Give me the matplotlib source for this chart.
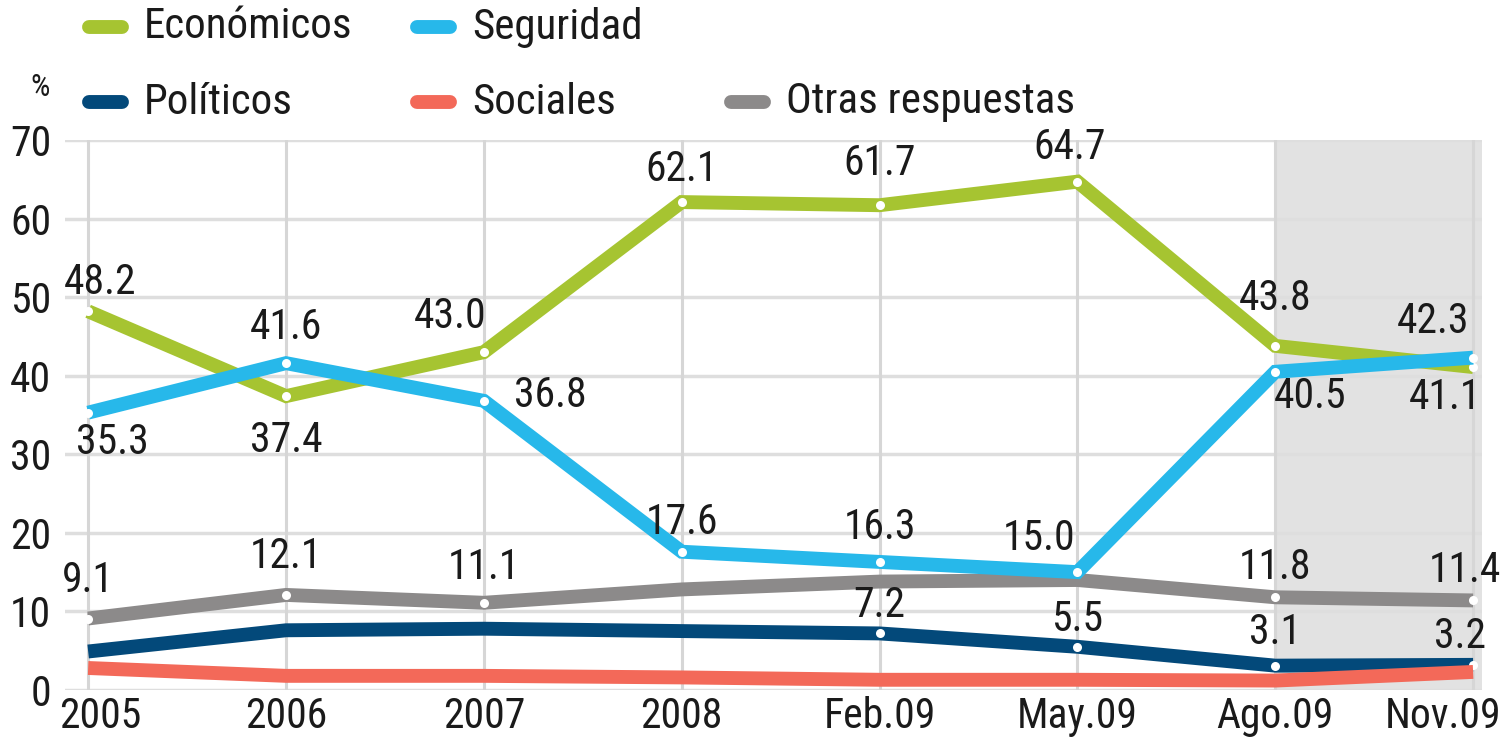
import matplotlib
matplotlib.use("Agg")
import matplotlib.pyplot as plt
from matplotlib import font_manager
from matplotlib.lines import Line2D
import matplotlib.transforms as mtransforms

# Data
periods = ["2005", "2006", "2007", "2008", "Feb.09", "May.09", "Ago.09", "Nov.09"]
economicos = [48.2, 37.4, 43.0, 62.1, 61.7, 64.7, 43.8, 41.1]
seguridad = [35.3, 41.6, 36.8, 17.6, 16.3, 15.0, 40.5, 42.3]
politicos = [4.9, 7.6, 7.8, 7.5, 7.2, 5.5, 3.1, 3.2]
sociales = [2.8, 1.8, 1.8, 1.6, 1.3, 1.3, 1.2, 2.3]
otras = [9.1, 12.1, 11.1, 12.8, 13.8, 14.0, 11.8, 11.4]

# which points carry a value label
show_econ = [True] * 8
show_seg = [True] * 8
show_pol = [False, False, False, False, True, True, True, True]
show_soc = [False] * 8
show_otras = [True, True, True, False, False, False, True, True]

# label offsets in pixels (dx, dy)
off_econ = [(12, 29), (0, -44), (-34, 36), (0, 33), (0, 42), (-8, 34), (0, 47), (-28, -30)]
off_seg = [(24, -30), (0, 36), (66, 5), (0, 29), (0, 34), (-38, 34), (35, -25), (-40, 36)]
off_pol = [None, None, None, None, (0, 28), (0, 27), (0, 33), (-13, 28)]
off_soc = [None] * 8
off_otras = [(0, 38), (0, 38), (0, 35), None, None, None, (0, 30), (-8, 30)]

colors = {
    "Económicos": "#a6c431",
    "Seguridad": "#27b8ea",
    "Políticos": "#03497a",
    "Sociales": "#f36959",
    "Otras respuestas": "#8c8a8a",
}

# a condensed face if there is one, else DejaVu at a smaller size
names = {f.name for f in font_manager.fontManager.ttflist}
font, fs = "DejaVu Sans", 24
for cand in ["Roboto Condensed", "Liberation Sans Narrow", "PT Sans Narrow", "Archivo Narrow"]:
    if cand in names:
        font, fs = cand, 30
        break
plt.rcParams['font.family'] = [font, 'DejaVu Sans']
txt_color = "#1a1a1a"

fig = plt.figure(figsize=(15.05, 7.4), dpi=100)
ax = fig.add_axes([65 / 1505, 1 - 690 / 740, (1482 - 65) / 1505, 550 / 740])
x = list(range(len(periods)))

ax.set_xlim(-0.117, 7.045)
ax.set_ylim(0, 70)

# shaded last quarter
ax.axvspan(6, 7.045, color="#e2e2e2", lw=0, zorder=0)

# grid
for yv in range(0, 80, 10):
    ax.axhline(yv, color="#dedede", lw=2.5, zorder=1)
for xv in x:
    ax.axvline(xv, color="#d6d6d6", lw=2.2, zorder=1)

series = [
    ("Otras respuestas", otras, show_otras, off_otras),
    ("Políticos", politicos, show_pol, off_pol),
    ("Sociales", sociales, show_soc, off_soc),
    ("Económicos", economicos, show_econ, off_econ),
    ("Seguridad", seguridad, show_seg, off_seg),
]

z = 3
for name, vals, show, offs in series:
    ax.plot(x, vals, color=colors[name], lw=10, solid_joinstyle="miter",
            solid_capstyle="butt", zorder=z, clip_on=False)
    mx = [xi for xi, s in zip(x, show) if s]
    my = [v for v, s in zip(vals, show) if s]
    ax.plot(mx, my, "o", color="white", ms=6.5, mew=0, zorder=z + 0.5, clip_on=False)
    z += 1

for name, vals, show, offs in series:
    for xi, v, s, o in zip(x, vals, show, offs):
        if s:
            ax.annotate(f"{v:.1f}", (xi, v), xytext=o, textcoords="offset pixels",
                        ha="center", va="center", fontsize=fs, color=txt_color,
                        zorder=20, annotation_clip=False)

for sp in ax.spines.values():
    sp.set_visible(False)
ax.set_yticks(range(0, 80, 10))
ax.set_xticks(x)
ax.set_xticklabels(periods)
ax.tick_params(length=0, labelsize=fs, colors=txt_color)
ax.tick_params(axis="x", pad=4)
ax.tick_params(axis="y", pad=10)
first = ax.get_xticklabels()[0]
first.set_transform(first.get_transform() + mtransforms.ScaledTranslation(12 / 100, 0, fig.dpi_scale_trans))
last = ax.get_xticklabels()[-1]
last.set_transform(last.get_transform() + mtransforms.ScaledTranslation(-30 / 100, 0, fig.dpi_scale_trans))

# legend drawn by hand
legend_items = [
    ("Económicos", 82, 27),
    ("Seguridad", 410, 27),
    ("Políticos", 82, 102),
    ("Sociales", 410, 102),
    ("Otras respuestas", 724, 102),
]
for name, px, py in legend_items:
    yy = 1 - py / 740
    fig.add_artist(Line2D([(px + 7) / 1505, (px + 40) / 1505], [yy, yy], color=colors[name],
                          lw=10, solid_capstyle="round"))
    fig.text((px + 62) / 1505, yy, name, ha="left", va="center", fontsize=fs + 1, color=txt_color)

fig.text(40 / 1505, 1 - 88 / 740, "%", ha="center", va="center", fontsize=fs - 8, color=txt_color)

fig.savefig("out.png", dpi=100)
